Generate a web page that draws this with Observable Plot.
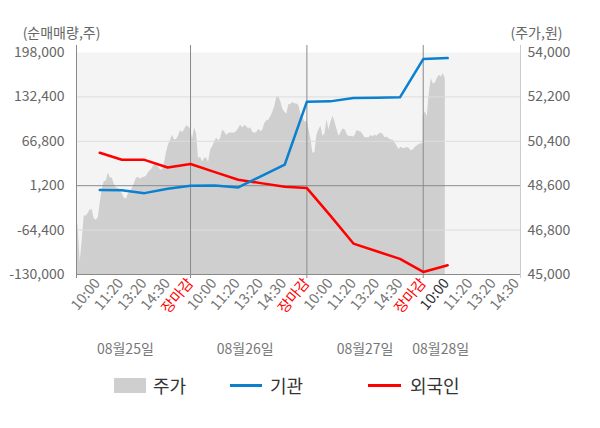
<!DOCTYPE html>
<html>
<head>
<meta charset="utf-8">
<script src="https://cdn.jsdelivr.net/npm/d3@7"></script>
<script src="https://cdn.jsdelivr.net/npm/@observablehq/plot@0.6"></script>
<style>
  html, body { margin: 0; padding: 0; background: #fff; }
  #wrap { width: 600px; height: 428px; position: relative; font-family: 'Noto Sans CJK KR', 'Noto Sans', sans-serif; }
  #chart svg { display: block; }
  #legend { position: relative; width: 600px; height: 63px; }
  .lg { position: absolute; font-size: 18px; color: #333; line-height: 20px; }
  .sw { position: absolute; }
</style>
</head>
<body>
<div id="wrap">
  <div id="chart"></div>
  <div id="legend">
    <div class="sw" style="left:114px; top:13px; width:32px; height:15px; background:#cfcfcf;"></div>
    <div class="lg" style="left:153px; top:10px;">주가</div>
    <div class="sw" style="left:230px; top:19px; width:32px; height:3px; background:#0a80cf;"></div>
    <div class="lg" style="left:270px; top:10px;">기관</div>
    <div class="sw" style="left:368px; top:19px; width:33px; height:3px; background:#ff0000;"></div>
    <div class="lg" style="left:410px; top:10px;">외국인</div>
  </div>
</div>
<script>
// ---- Data ----
// Stock price (원), sampled evenly through each trading session
const priceDay1 = [47531, 47531, 46900, 45500, 46350, 47370, 47370, 47470, 47620, 47628, 47250, 47200, 47304, 47900, 48460, 48760, 48790, 49110, 48925, 48900, 48660, 48520, 48490, 48450, 48260, 48100, 48050, 48250, 48360, 48480, 48680, 48890, 48940, 48860, 48920, 48940, 48980, 49130, 49217, 49300, 49460, 49480, 49370, 49245, 49230, 49500, 49940, 50250, 50420, 50650, 50450, 50470, 50600, 50834, 50750, 50870, 51020, 50990, 50900];
const priceDay2 = [50950, 50470, 50950, 50700, 49700, 49750, 49560, 49700, 49720, 49550, 50040, 50180, 50370, 50530, 50420, 50500, 50850, 50790, 50640, 50720, 50740, 50740, 50740, 50800, 50920, 51060, 50940, 51040, 51000, 50900, 50950, 50770, 50725, 50760, 50890, 50800, 50850, 51120, 51238, 51250, 51400, 51580, 51820, 52180, 52220, 51990, 51700, 51580, 51500, 51880, 51900, 51970, 51920, 51910, 51850, 51500, 51370, 51180, 51200];
const priceDay3 = [51300, 50900, 50500, 49920, 49950, 50660, 50860, 51020, 50600, 50700, 51270, 50860, 51180, 51420, 51180, 50890, 50600, 50750, 50900, 50880, 50680, 50590, 50600, 50570, 50620, 50834, 50800, 50780, 50680, 50539, 50539, 50539, 50632, 50580, 50650, 50600, 50700, 50740, 50680, 50539, 50560, 50500, 50457, 50440, 50330, 50200, 50070, 50170, 50100, 50120, 50150, 50120, 50020, 50050, 50150, 50220, 50270, 50296, 50296];
const priceDay4 = [51400, 51600, 51400, 52320, 52950, 52730, 52750, 52950, 53080, 53000, 53150, 52920];
const samplesPerDay = 58;   // intervals per session
const slotsPerDay = 5;

// Net buying (주) at reporting points (slot index along the time axis)
const flowSlots   = [1.1, 2.05, 3.02, 4.02, 5, 6.05, 7.05, 8.02, 9.05, 10, 11, 12, 13, 14, 15, 16.05];
const institution = [-5300, -5500, -9800, -3300, 1200, 1500, -1400, 15100, 32500, 125400, 125800, 130800, 131300, 131700, 188300, 189700];
const foreign     = [49800, 39500, 39400, 28100, 33300, 21200, 10000, 5000, -300, -2300, -42600, -84300, -95700, -107000, -126200, -116300];

// Axis ticks / labels
const volTicks = [-130000, -64400, 1200, 66800, 132400, 198000];
const priceTicks = [45000, 46800, 48600, 50400, 52200, 54000];
const tickLabels = ["10:00", "11:20", "13:20", "14:30", "장마감", "10:00", "11:20", "13:20", "14:30", "장마감", "10:00", "11:20", "13:20", "14:30", "장마감", "10:00", "11:20", "13:20", "14:30"];
const dateLabels = ["08월25일", "08월26일", "08월27일", "08월28일"];
const dateSlots = [2.2, 7.35, 12.5, 15.75];
const xDomain = [0.1, 19.18];

// ---- Build ----
const vMin = -130000, vMax = 198000, pMin = 45000, pMax = 54000;
const toV = p => vMin + (p - pMin) / (pMax - pMin) * (vMax - vMin);
const fromV = v => pMin + (v - vMin) / (vMax - vMin) * (pMax - pMin);

const priceRows = [];
[priceDay1, priceDay2, priceDay3, priceDay4].forEach((arr, d) => {
  arr.forEach((p, i) => priceRows.push({x: d * slotsPerDay + i * slotsPerDay / samplesPerDay, price: p}));
});
const flowRows = flowSlots.map((s, i) => ({x: s, inst: institution[i], forn: foreign[i]}));

const slots = tickLabels.map((_, i) => i + 1);
const closeSlots = slots.filter(s => tickLabels[s - 1] === "장마감");
const lastOpen = 16;
const normalSlots = slots.filter(s => tickLabels[s - 1] !== "장마감" && s !== lastOpen);
const fmt = d3.formatLocale({decimal: ".", thousands: ",", grouping: [3], currency: ["", ""], minus: "-"}).format(",");
const font = "'Noto Sans CJK KR', 'Noto Sans', sans-serif";

const xAxisCommon = {tickSize: 0, tickPadding: 6, tickRotate: -50, fontSize: 14.5, label: null, tickFormat: s => tickLabels[s - 1]};

const chart = Plot.plot({
  width: 600,
  height: 365,
  marginTop: 52,
  marginLeft: 76,
  marginRight: 80,
  marginBottom: 91,
  x: {domain: xDomain, axis: null},
  y: {domain: [vMin, vMax], axis: null},
  style: {fontFamily: font, background: "#fff", overflow: "visible"},
  marks: [
    Plot.frame({fill: "#f4f4f4", stroke: null}),
    Plot.areaY(priceRows, {x: "x", y1: vMin, y2: d => toV(d.price), fill: "#cfcfcf", clip: true}),
    Plot.ruleY([-64400, 66800, 132400], {stroke: "#dcdcdc", strokeWidth: 1}),
    Plot.ruleY([1200], {stroke: "#8a8a8a", strokeWidth: 1}),
    Plot.ruleX([5, 10, 15], {stroke: "#8a8a8a", insetTop: -7, insetBottom: -4}),
    Plot.ruleX([xDomain[0]], {stroke: "#8a8a8a", insetTop: -7, insetBottom: -4}),
    Plot.ruleX([xDomain[1]], {stroke: "#cccccc", insetTop: -7, insetBottom: -4}),
    Plot.ruleY([vMin], {stroke: "#8a8a8a"}),
    Plot.line(flowRows, {x: "x", y: "forn", stroke: "#ff0000", strokeWidth: 2.5}),
    Plot.line(flowRows, {x: "x", y: "inst", stroke: "#0a80cf", strokeWidth: 2.5}),
    Plot.axisY({anchor: "left", ticks: volTicks, tickSize: 0, tickPadding: 12, tickFormat: fmt, fontSize: 14, color: "#666", label: null}),
    Plot.axisY({anchor: "right", ticks: priceTicks.map(toV), tickSize: 0, tickPadding: 7, tickFormat: v => fmt(Math.round(fromV(v))), fontSize: 14, color: "#666", label: null}),
    Plot.axisX({...xAxisCommon, ticks: normalSlots, color: "#777"}),
    Plot.axisX({...xAxisCommon, ticks: closeSlots, color: "#ff0000"}),
    Plot.axisX({...xAxisCommon, ticks: [lastOpen], color: "#333"}),
    Plot.text(dateLabels, {x: (d, i) => dateSlots[i], frameAnchor: "bottom", dy: 79, fontSize: 14, fill: "#777"}),
    Plot.text(["(순매매량,주)"], {frameAnchor: "top-left", textAnchor: "middle", lineAnchor: "middle", dx: -15, dy: -19, fontSize: 14, fill: "#666"}),
    Plot.text(["(주가,원)"], {frameAnchor: "top-right", textAnchor: "middle", lineAnchor: "middle", dx: 16, dy: -19, fontSize: 14, fill: "#666"})
  ]
});
document.getElementById("chart").appendChild(chart);
</script>
</body>
</html>
